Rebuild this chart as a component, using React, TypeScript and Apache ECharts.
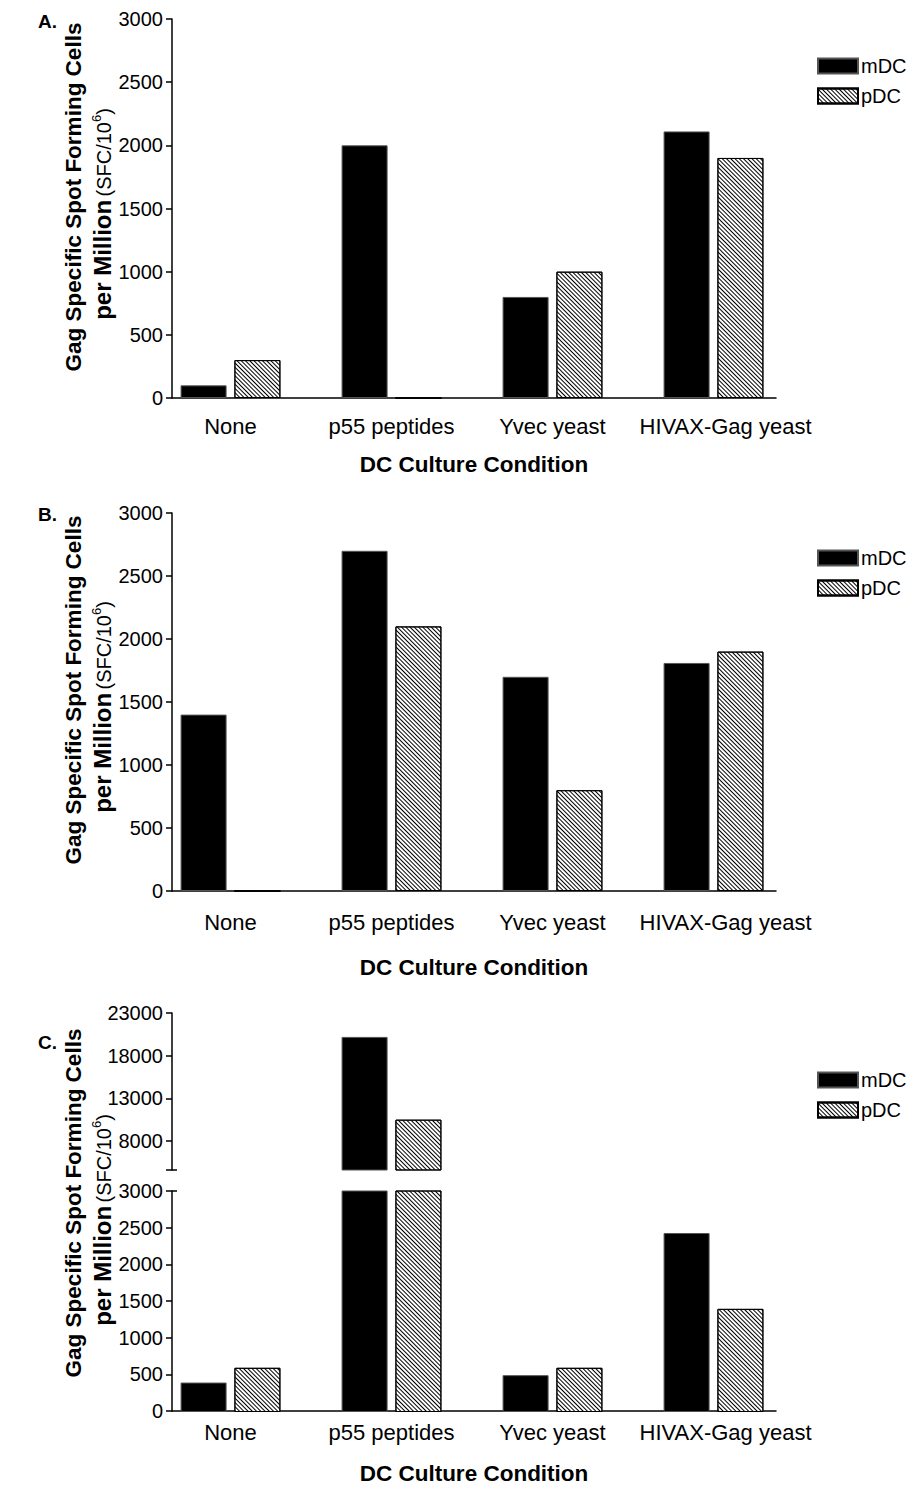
import React, { useEffect, useRef } from 'react';
import * as echarts from 'echarts';

// ---------- data ----------
const categories = ['None', 'p55 peptides', 'Yvec yeast', 'HIVAX-Gag yeast'];
const seriesNames = ['mDC', 'pDC'];
const panelAmDC = [100, 2000, 800, 2110];
const panelApDC = [300, 0, 1000, 1900];
const panelBmDC = [1400, 2700, 1700, 1810];
const panelBpDC = [0, 2100, 800, 1900];
const panelCmDC = [400, 20200, 500, 2430];
const panelCpDC = [600, 10500, 600, 1400];
const lowerMax = 3000;
const lowerInterval = 500;
const upperMin = 4600;
const upperMax = 23000;
const upperTicks = [8000, 13000, 18000, 23000];
const panelLabels = ['A.', 'B.', 'C.'];
const yTitle1 = 'Gag Specific Spot Forming Cells';
const xTitle = 'DC Culture Condition';

const FONT = '"Liberation Sans", Arial, Helvetica, sans-serif';
const BAR_LEFT = 150;
const BAR_WIDTH = 644;
const AX_LEFT = 172;
const AX_WIDTH = 604;

const axisLineStyle = { color: '#000', width: 1.5 };

const mStyle = { color: '#000', borderColor: '#555', borderWidth: 1 };
const pStyle = {
  color: '#fff',
  borderColor: '#000',
  borderWidth: 1,
  decal: {
    symbol: 'rect',
    symbolSize: 1,
    dashArrayX: [[1, 0]],
    dashArrayY: [1, 2],
    rotation: Math.PI / 4,
    color: '#000',
    backgroundColor: '#fff',
  },
};

const plain = (v: number) => String(v);

function buildOption() {
  const grids: any[] = [];
  const xAxes: any[] = [];
  const yAxes: any[] = [];
  const series: any[] = [];

  const addPanel = (
    top: number,
    height: number,
    yMin: number,
    yMax: number,
    mData: (number | null)[],
    pData: (number | null)[],
    opts: { labels: boolean; labelMargin: number; xLine: boolean; nameGap: number; upper: boolean }
  ) => {
    const gBar = grids.length;
    grids.push({ left: BAR_LEFT, width: BAR_WIDTH, top, height, containLabel: false });
    const gAx = grids.length;
    grids.push({ left: AX_LEFT, width: AX_WIDTH, top, height, containLabel: false });

    const xiBar = xAxes.length;
    xAxes.push({
      gridIndex: gBar,
      type: 'category',
      data: categories,
      axisLine: { show: false },
      axisTick: { show: false },
      axisLabel: {
        show: opts.labels,
        margin: opts.labelMargin,
        color: '#000',
        fontSize: 22,
        fontFamily: FONT,
        interval: 0,
        formatter: (v: string) => (v === categories[3] ? `{s|${v}}` : v),
        rich: { s: { fontSize: 22, fontFamily: FONT, color: '#000', padding: [0, 0, 0, 24] } },
      },
    });
    xAxes.push({
      gridIndex: gAx,
      type: 'value',
      min: 0,
      max: 1,
      show: opts.xLine,
      axisLine: { show: opts.xLine, lineStyle: axisLineStyle },
      axisTick: { show: false },
      axisLabel: { show: false },
      splitLine: { show: false },
      name: opts.xLine ? xTitle : '',
      nameLocation: 'middle',
      nameGap: opts.nameGap,
      nameTextStyle: { color: '#000', fontSize: 22.5, fontWeight: 'bold', fontFamily: FONT },
    });

    const yiBar = yAxes.length;
    yAxes.push({ gridIndex: gBar, type: 'value', min: yMin, max: yMax, show: false });
    const tickCfg = opts.upper
      ? {
          axisTick: { show: true, length: 6, lineStyle: axisLineStyle, customValues: upperTicks },
          axisLabel: {
            color: '#000',
            fontSize: 20,
            fontFamily: FONT,
            margin: 9,
            customValues: upperTicks,
            formatter: plain,
          },
        }
      : {
          interval: lowerInterval,
          axisTick: { show: true, length: 6, lineStyle: axisLineStyle },
          axisLabel: { color: '#000', fontSize: 20, fontFamily: FONT, margin: 9, formatter: plain },
        };
    yAxes.push({
      gridIndex: gAx,
      type: 'value',
      position: 'left',
      min: yMin,
      max: yMax,
      axisLine: { show: true, lineStyle: axisLineStyle },
      splitLine: { show: false },
      ...tickCfg,
    });

    series.push({
      name: seriesNames[0],
      type: 'bar',
      xAxisIndex: xiBar,
      yAxisIndex: yiBar,
      data: mData,
      barWidth: 46,
      barGap: '17%',
      itemStyle: mStyle,
      clip: true,
    });
    series.push({
      name: seriesNames[1],
      type: 'bar',
      xAxisIndex: xiBar,
      yAxisIndex: yiBar,
      data: pData,
      barWidth: 46,
      barGap: '17%',
      itemStyle: pStyle,
      clip: true,
    });
    return gAx;
  };

  addPanel(19, 379, 0, lowerMax, panelAmDC, panelApDC, {
    labels: true, labelMargin: 17, xLine: true, nameGap: 55, upper: false,
  });
  addPanel(513, 378, 0, lowerMax, panelBmDC, panelBpDC, {
    labels: true, labelMargin: 20, xLine: true, nameGap: 65, upper: false,
  });
  const upperOnly = (arr: number[]) => arr.map((v) => (v > upperMin ? v : null));
  const gUp = addPanel(1013, 157, upperMin, upperMax, upperOnly(panelCmDC), upperOnly(panelCpDC), {
    labels: false, labelMargin: 0, xLine: false, nameGap: 0, upper: true,
  });
  const gLow = addPanel(1191, 221, 0, lowerMax, panelCmDC, panelCpDC, {
    labels: true, labelMargin: 9, xLine: true, nameGap: 51, upper: false,
  });

  // axis-break end ticks
  yAxes.push({
    gridIndex: gUp,
    type: 'value',
    position: 'left',
    min: upperMin,
    max: upperMax,
    axisLine: { show: false },
    axisLabel: { show: false },
    splitLine: { show: false },
    axisTick: { show: true, inside: true, length: 5, lineStyle: axisLineStyle, customValues: [upperMin] },
  });
  yAxes.push({
    gridIndex: gUp,
    type: 'value',
    position: 'left',
    min: upperMin,
    max: upperMax,
    axisLine: { show: false },
    axisLabel: { show: false },
    splitLine: { show: false },
    axisTick: { show: true, length: 6, lineStyle: axisLineStyle, customValues: [upperMin] },
  });
  yAxes.push({
    gridIndex: gLow,
    type: 'value',
    position: 'left',
    min: 0,
    max: lowerMax,
    axisLine: { show: false },
    axisLabel: { show: false },
    splitLine: { show: false },
    axisTick: { show: true, inside: true, length: 5, lineStyle: axisLineStyle, customValues: [lowerMax] },
  });

  const legendBase = {
    data: seriesNames,
    orient: 'vertical',
    left: 817,
    padding: 0,
    itemWidth: 40,
    itemHeight: 15,
    itemGap: 10,
    icon: 'rect',
    selectedMode: false,
    textStyle: { color: '#000', fontSize: 20, fontFamily: FONT, padding: [0, 0, 0, -2] },
  };

  const titleTexts = (cy: number) => [
    {
      type: 'text',
      x: 73,
      y: cy,
      rotation: Math.PI / 2,
      style: {
        text: yTitle1,
        fontSize: 22.5,
        fontWeight: 'bold',
        fontFamily: FONT,
        fill: '#000',
        textAlign: 'center',
        textVerticalAlign: 'middle',
      },
    },
    {
      type: 'text',
      x: 101,
      y: cy + 17,
      rotation: Math.PI / 2,
      style: {
        text: '{b|per Million} {n|(SFC/10}{s|6}{n|)}',
        fill: '#000',
        textAlign: 'center',
        textVerticalAlign: 'middle',
        rich: {
          b: { fontSize: 24, fontWeight: 'bold', fontFamily: FONT, fill: '#000', verticalAlign: 'bottom', lineHeight: 26 },
          n: { fontSize: 20, fontFamily: FONT, fill: '#000', verticalAlign: 'bottom', lineHeight: 24 },
          s: { fontSize: 13, fontFamily: FONT, fill: '#000', verticalAlign: 'bottom', lineHeight: 14, padding: [0, 0, 11, 0] },
        },
      },
    },
  ];

  const panelLabelText = (i: number, y: number) => ({
    type: 'text',
    x: 38,
    y,
    style: {
      text: panelLabels[i],
      fontSize: 19,
      fontWeight: 'bold',
      fontFamily: FONT,
      fill: '#000',
      textVerticalAlign: 'top',
    },
  });

  return {
    animation: false,
    backgroundColor: '#fff',
    grid: grids,
    xAxis: xAxes,
    yAxis: yAxes,
    series,
    legend: [
      { ...legendBase, top: 56 },
      { ...legendBase, top: 548 },
      { ...legendBase, top: 1070 },
    ],
    graphic: [
      panelLabelText(0, 12),
      panelLabelText(1, 505),
      panelLabelText(2, 1033),
      ...titleTexts(197),
      ...titleTexts(690),
      ...titleTexts(1203),
    ],
  };
}

export default function App() {
  const ref = useRef<HTMLDivElement>(null);
  useEffect(() => {
    if (!ref.current) return;
    const chart = echarts.init(ref.current, undefined, { renderer: 'svg' });
    chart.setOption(buildOption() as any);
    return () => chart.dispose();
  }, []);
  return (
    <div
      ref={ref}
      style={{ position: 'absolute', left: 0, top: 0, width: 916, height: 1486, background: '#fff' }}
    />
  );
}
